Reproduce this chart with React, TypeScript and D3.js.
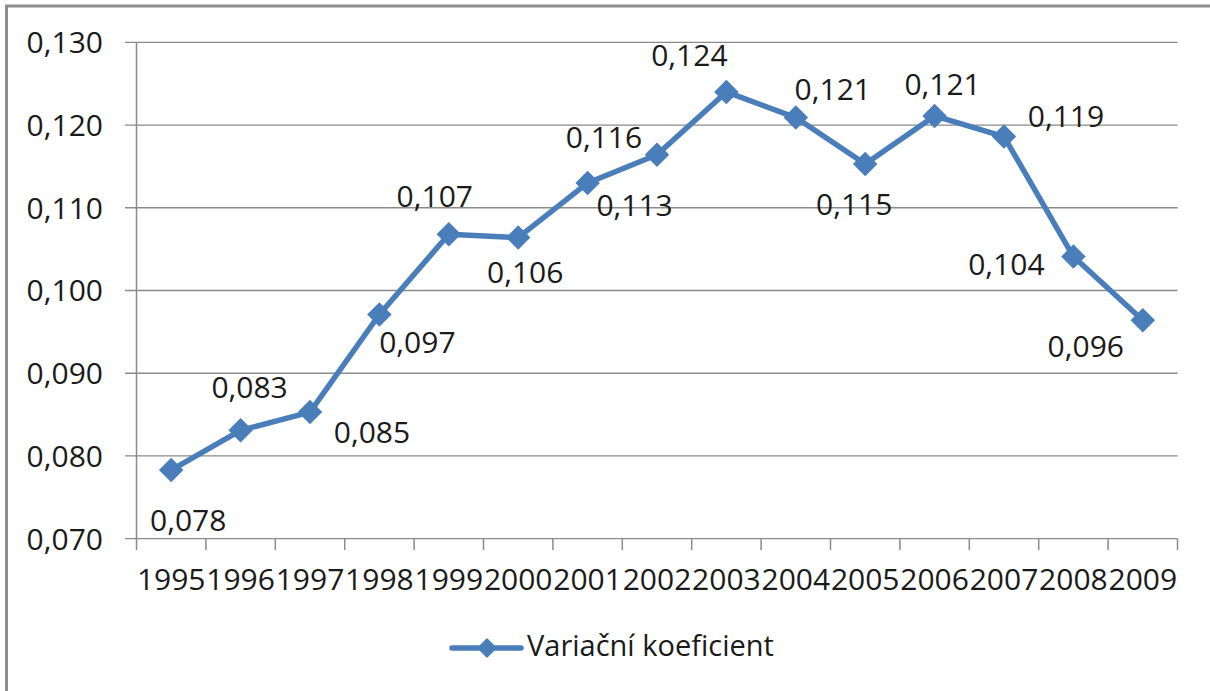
import React from "react";
import * as d3 from "d3";

const years: string[] = ["1995","1996","1997","1998","1999","2000","2001","2002","2003","2004","2005","2006","2007","2008","2009"];
const values: number[] = [0.0783,0.0831,0.0853,0.0971,0.1068,0.1064,0.1130,0.1164,0.1240,0.1209,0.1153,0.1211,0.1186,0.1041,0.0964];
const yTicks: number[] = [0.07,0.08,0.09,0.10,0.11,0.12,0.13];
const seriesName = "Variační koeficient";
// label placement offsets (px) relative to each point, as Excel placed them
const labelDx: number[] = [17, 9, 62, 38, -14, 7, 47, -53, -37, 37, -11, 8, 62, -67, -57];
const labelDy: number[] = [50, -43, 20, 28, -38, 35, 22, -18, -37, -28, 40, -32, -20, 8, 26];

const W = 1210, H = 691;
const FONT = "'Open Sans', sans-serif";
const FS = 30;
const BLUE = "#4a7ebb";
const GRID = "#8a8a8a";

export default function App() {
  const x = d3.scaleBand<string>().domain(years).range([136.5, 1177.5]);
  const y = d3.scaleLinear().domain([0.07, 0.13]).range([538.7, 42.3]);
  const fmt = (v: number) => v.toFixed(3).replace(".", ",");
  const cx = (i: number) => (x(years[i]) as number) + x.bandwidth() / 2;
  const line = d3.line<number>().x((_, i) => cx(i)).y((v) => y(v));
  const diamond = d3.symbol().type(d3.symbolSquare).size(300)();
  const ticksX = [...years.map((yr) => x(yr) as number), 1177.5];

  return (
    <svg width={W} height={H} style={{ position: "absolute", left: 0, top: 0, background: "#fff" }}>
      <rect x={0} y={0} width={W} height={H} fill="#fff" />
      <path d={`M6.5,${H + 5} V6 H${W + 5}`} fill="none" stroke="#8c8c8c" strokeWidth={3} />
      {yTicks.map((t) => (
        <g key={t}>
          <line x1={125} x2={1177.5} y1={y(t)} y2={y(t)} stroke={GRID} strokeWidth={1.3} />
          <text x={103} y={y(t)} dy="0.36em" textAnchor="end" fontFamily={FONT} fontSize={FS} fill="#1a1a1a">{fmt(t)}</text>
        </g>
      ))}
      <line x1={136.5} x2={136.5} y1={42.3} y2={538.7} stroke={GRID} strokeWidth={1.5} />
      {ticksX.map((tx, i) => (
        <line key={i} x1={tx} x2={tx} y1={538.7} y2={550} stroke={GRID} strokeWidth={1.5} />
      ))}
      {years.map((yr, i) => (
        <text key={yr} x={cx(i)} y={590} textAnchor="middle" fontFamily={FONT} fontSize={FS} fill="#1a1a1a">{yr}</text>
      ))}
      <path d={line(values) || ""} fill="none" stroke={BLUE} strokeWidth={5.5} strokeLinejoin="round" />
      {values.map((v, i) => (
        <path key={i} d={diamond || ""} transform={`translate(${cx(i)},${y(v)}) rotate(45)`} fill={BLUE} />
      ))}
      {values.map((v, i) => (
        <text key={"l" + i} x={cx(i) + labelDx[i]} y={y(v) + labelDy[i]} dy="0.36em" textAnchor="middle" fontFamily={FONT} fontSize={FS} fill="#1a1a1a">{fmt(v)}</text>
      ))}
      <line x1={452} x2={521} y1={648} y2={648} stroke={BLUE} strokeWidth={5.5} strokeLinecap="round" />
      <path d={d3.symbol().type(d3.symbolSquare).size(200)() || ""} transform="translate(487,648) rotate(45)" fill={BLUE} />
      <text x={527} y={646} dy="0.36em" fontFamily={FONT} fontSize={29} fill="#1a1a1a">{seriesName}</text>
    </svg>
  );
}
